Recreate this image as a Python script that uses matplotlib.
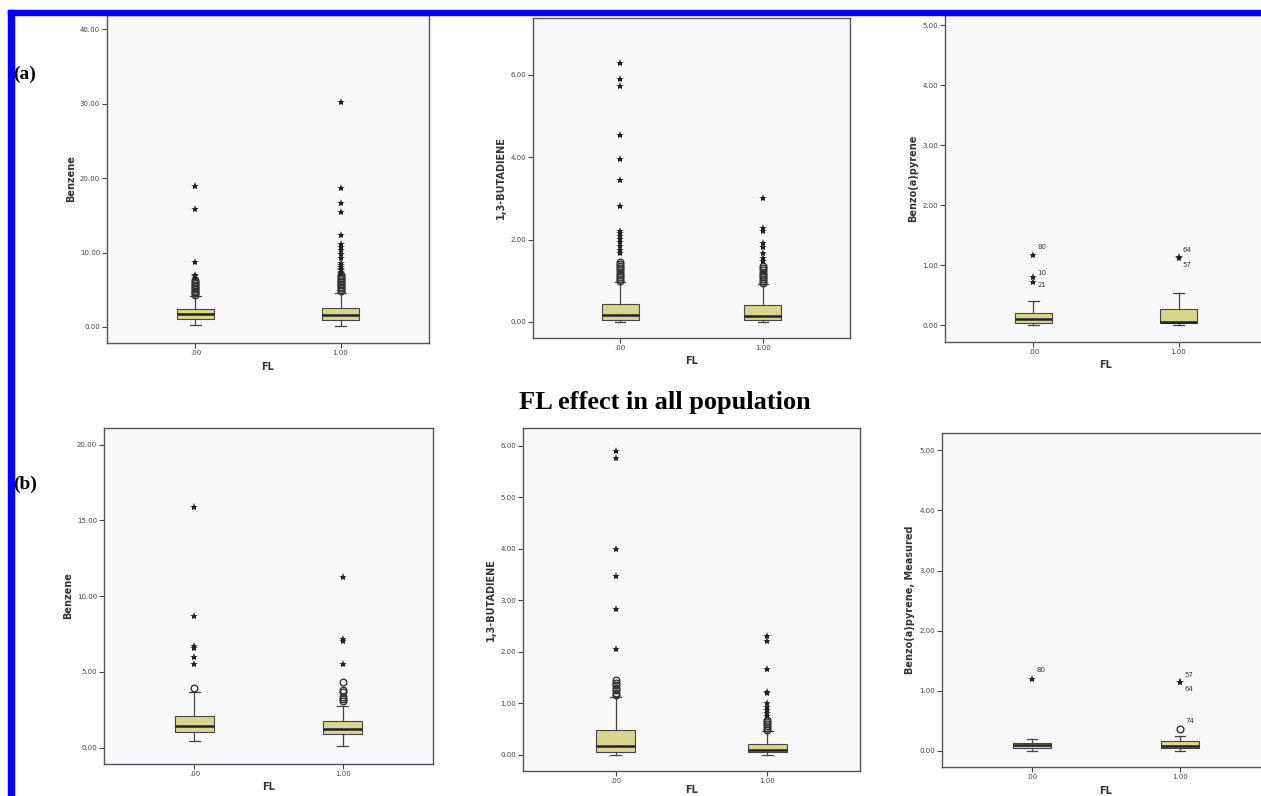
import matplotlib
matplotlib.use("Agg")
import matplotlib.pyplot as plt
from matplotlib.patches import Rectangle

W, H = 1261, 796
DPI = 100

group_labels = [".00", "1.00"]

# (a) row: box stats per group = [whislo, q1, median, q3, whishi]
a_benz_box = [[0.25, 1.1, 1.7, 2.45, 4.2], [0.2, 1.0, 1.6, 2.5, 4.6]]
a_benz_circ = [[4.3, 4.5, 4.7, 4.9, 5.1, 5.3, 5.5, 5.7, 5.9, 6.1, 6.3],
               [4.8, 5.0, 5.2, 5.4, 5.6, 5.8, 6.0, 6.2, 6.4, 6.6, 6.8, 7.0]]
a_benz_star = [[6.6, 6.8, 7.0, 8.7, 15.8, 19.0],
               [7.2, 7.4, 7.6, 7.8, 8.0, 8.3, 8.6, 9.2, 9.8, 10.3, 10.7, 11.1,
                12.3, 15.5, 16.6, 18.6, 30.2]]

a_buta_box = [[0.0, 0.05, 0.18, 0.44, 0.97], [0.0, 0.05, 0.14, 0.41, 0.91]]
a_buta_circ = [[1.0, 1.05, 1.1, 1.15, 1.2, 1.25, 1.3, 1.35, 1.4, 1.45],
               [0.95, 1.0, 1.05, 1.1, 1.15, 1.2, 1.25, 1.3, 1.35]]
a_buta_star = [[1.67, 1.75, 1.85, 1.95, 2.02, 2.08, 2.15, 2.22, 2.81, 3.45,
                3.96, 4.55, 5.74, 5.9, 6.29],
               [1.48, 1.55, 1.67, 1.83, 1.91, 2.21, 2.29, 3.01]]

a_bap_box = [[0.0, 0.04, 0.1, 0.2, 0.41], [0.0, 0.04, 0.06, 0.27, 0.54]]
a_bap_circ = [[], []]
a_bap_star = [[0.72, 0.8, 1.17], [1.12, 1.14]]
a_bap_ids = [["21", "10", "80"], ["57", "64"]]

# (b) row
b_benz_box = [[0.46, 1.0, 1.45, 2.1, 3.66], [0.13, 0.88, 1.24, 1.79, 2.78]]
b_benz_circ = [[3.92], [3.1, 3.2, 3.35, 3.7, 3.8, 4.36]]
b_benz_star = [[5.5, 6.0, 6.6, 6.7, 8.72, 15.89], [5.5, 7.05, 7.2, 11.24]]

b_buta_box = [[0.0, 0.05, 0.17, 0.47, 1.12], [0.0, 0.04, 0.08, 0.21, 0.46]]
b_buta_circ = [[1.15, 1.2, 1.25, 1.3, 1.35, 1.4, 1.45],
               [0.48, 0.52, 0.56, 0.6, 0.64, 0.68]]
b_buta_star = [[2.05, 2.83, 3.47, 3.99, 5.76, 5.9],
               [0.74, 0.8, 0.86, 0.92, 1.0, 1.2, 1.22, 1.67, 2.21, 2.31]]

b_bap_box = [[0.0, 0.05, 0.09, 0.13, 0.19], [0.0, 0.04, 0.08, 0.17, 0.24]]
b_bap_circ = [[], [0.36]]
b_bap_circ_ids = [[], ["74"]]
b_bap_star = [[1.2], [1.14, 1.14]]
b_bap_ids = [["80"], ["64", "57"]]

BOX_FILL = "#d8d58e"
FACE = "#f9f9fb"
EDGE = "#555555"

fig = plt.figure(figsize=(W / DPI, H / DPI), dpi=DPI)


def px_axes(left, top, right, bottom):
    return fig.add_axes([left / W, 1 - bottom / H, (right - left) / W, (bottom - top) / H])


def panel(rect, ylim, yticks, ylabel, box, circ, star, star_ids=None,
          star_off=None, circ_ids=None, xpad=4):
    ax = px_axes(*rect)
    ax.set_facecolor(FACE)
    stats = []
    for b in box:
        stats.append(dict(whislo=b[0], q1=b[1], med=b[2], q3=b[3], whishi=b[4],
                          fliers=[]))
    ax.bxp(stats, positions=[0, 1], widths=0.26, capwidths=0.07,
           patch_artist=True, showfliers=False,
           boxprops=dict(facecolor=BOX_FILL, edgecolor="#444444", linewidth=0.8),
           medianprops=dict(color="#222222", linewidth=1.8),
           whiskerprops=dict(color="#444444", linewidth=0.9),
           capprops=dict(color="#444444", linewidth=0.9))
    for i in range(2):
        if circ[i]:
            ax.plot([i] * len(circ[i]), circ[i], ls="none", marker="o", ms=4.8,
                    mfc="none", mec="#333333", mew=1.0)
        if star[i]:
            ax.plot([i] * len(star[i]), star[i], ls="none", marker="*", ms=6,
                    color="#222222", mew=0)
    if star_ids:
        for i in range(2):
            for v, lab, off in zip(star[i], star_ids[i], star_off[i]):
                ax.annotate(lab, (i, v), xytext=off, textcoords="offset points",
                            fontsize=5, color="#333333", ha="left", va="center")
    if circ_ids:
        for i in range(2):
            for v, lab in zip(circ[i], circ_ids[i]):
                ax.annotate(lab, (i, v), xytext=(4, 6), textcoords="offset points",
                            fontsize=5, color="#333333", ha="left", va="center")
    ax.set_xlim(-0.61, 1.61)
    ax.set_ylim(*ylim)
    ax.set_yticks(yticks)
    ax.set_yticklabels(["%.2f" % t for t in yticks])
    ax.set_xticks([0, 1])
    ax.set_xticklabels(group_labels)
    ax.tick_params(labelsize=5, labelcolor="#444444", color="#444444",
                   length=3.5, width=0.8, pad=1.5)
    for s in ax.spines.values():
        s.set_color(EDGE)
        s.set_linewidth(1.0)
    ax.set_ylabel(ylabel, fontsize=7, fontweight="bold", color="#333333", labelpad=3)
    ax.set_xlabel("FL", fontsize=7, fontweight="bold", color="#333333", labelpad=xpad)
    return ax


panel((107, 15, 429, 343), (-2.15, 41.9), [0, 10, 20, 30, 40], "Benzene",
      a_benz_box, a_benz_circ, a_benz_star)
panel((533, 18, 850, 338), (-0.39, 7.38), [0, 2, 4, 6], "1,3-BUTADIENE",
      a_buta_box, a_buta_circ, a_buta_star)
panel((945, 15, 1267, 342), (-0.28, 5.17), [0, 1, 2, 3, 4, 5], "Benzo(a)pyrene",
      a_bap_box, a_bap_circ, a_bap_star, star_ids=a_bap_ids,
      star_off=[[(3, -2), (3, 3), (3, 6)], [(3, -5), (3, 5)]])

panel((104, 428, 433, 764), (-1.08, 21.1), [0, 5, 10, 15, 20], "Benzene",
      b_benz_box, b_benz_circ, b_benz_star)
panel((523, 428, 860, 771), (-0.32, 6.35), [0, 1, 2, 3, 4, 5, 6], "1,3-BUTADIENE",
      b_buta_box, b_buta_circ, b_buta_star, xpad=0.5)
panel((942, 433, 1270, 767), (-0.27, 5.29), [0, 1, 2, 3, 4, 5],
      "Benzo(a)pyrene, Measured",
      b_bap_box, b_bap_circ, b_bap_star, star_ids=b_bap_ids,
      star_off=[[(3, 6)], [(3, -5), (3, 5)]], circ_ids=b_bap_circ_ids)

fig.text(665 / W, 1 - 403 / H, "FL effect in all population", ha="center", va="center",
         fontsize=19, fontweight="bold", family="Liberation Serif")
fig.text(13 / W, 1 - 74 / H, "(a)", ha="left", va="center", fontsize=14,
         fontweight="bold", family="Liberation Serif")
fig.text(13 / W, 1 - 484 / H, "(b)", ha="left", va="center", fontsize=14,
         fontweight="bold", family="Liberation Serif")

# blue frame on the left and top
fig.patches.append(Rectangle((8 / W, 0), 6 / W, 1 - 10 / H, transform=fig.transFigure,
                             color="#0000ff", zorder=10))
fig.patches.append(Rectangle((8 / W, 1 - 15 / H), 1, 5 / H, transform=fig.transFigure,
                             color="#0000ff", zorder=10))

fig.savefig("out.png", dpi=DPI)
